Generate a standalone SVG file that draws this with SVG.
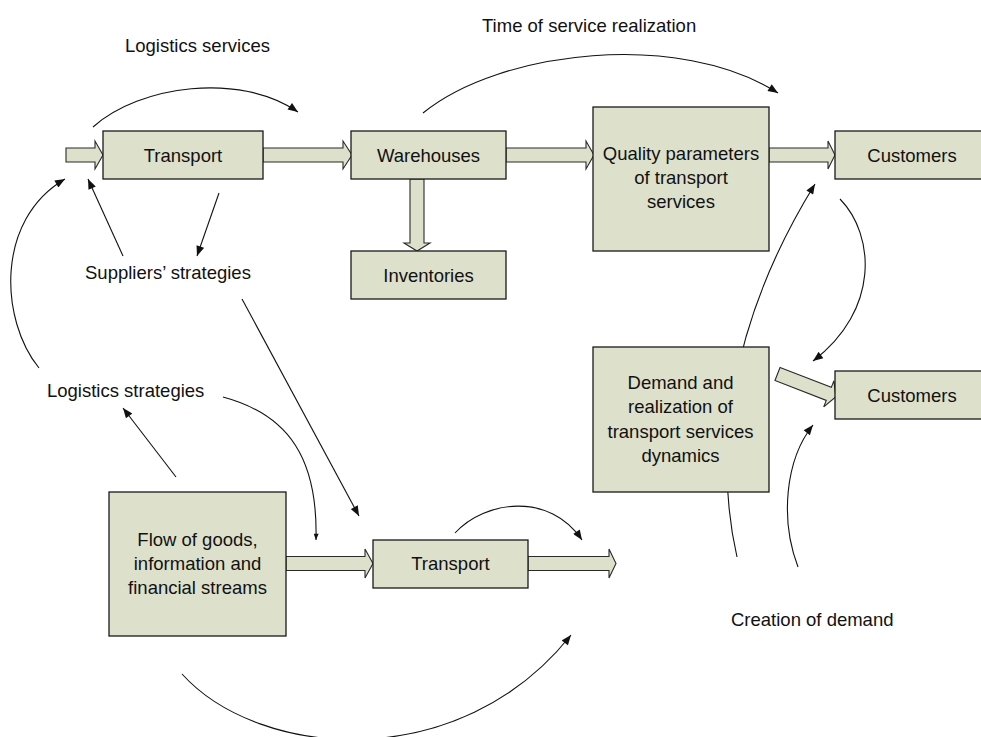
<svg xmlns="http://www.w3.org/2000/svg" width="981" height="737" viewBox="0 0 981 737">
  <style>
    .box { fill: #dde0cb; stroke: #1a1a1a; stroke-width: 1.3; }
    .flow { fill: #dde0cb; stroke: #2a2a2a; stroke-width: 1.1; }
    .link { fill: none; stroke: #111; stroke-width: 1.1; }
    .lbl { font-family: "Liberation Sans", Arial, sans-serif; font-size: 18.5px; fill: #111; }
    .mid { text-anchor: middle; }
  </style>
  <defs>
    <marker id="arrow" viewBox="0 0 10 8" refX="10" refY="4" markerWidth="11" markerHeight="8" markerUnits="userSpaceOnUse" orient="auto">
      <path d="M0,0 L10,4 L0,8 z" fill="#111"/>
    </marker>
    <marker id="arrowSmall" viewBox="0 0 10 8" refX="10" refY="4" markerWidth="7" markerHeight="5" markerUnits="userSpaceOnUse" orient="auto">
      <path d="M0,0 L10,4 L0,8 z" fill="#111"/>
    </marker>
  </defs>

  <!-- influence connectors (drawn first so boxes sit above them) -->
  <g id="connectors">
    <path class="link" d="M93,127 C140,85 240,72 298,112" marker-end="url(#arrow)"/>
    <path class="link" d="M423,113 C500,50 680,30 778,93" marker-end="url(#arrow)"/>
    <path class="link" d="M219,193 L197,256" marker-end="url(#arrow)"/>
    <path class="link" d="M123,256 L88,179" marker-end="url(#arrow)"/>
    <path class="link" d="M39,368 C0,320 -5,220 65,179" marker-end="url(#arrow)"/>
    <path class="link" d="M176,477 L123,408" marker-end="url(#arrow)"/>
    <path class="link" d="M223,397 C290,415 318,460 316,540" marker-end="url(#arrowSmall)"/>
    <path class="link" d="M242,299 L359,516" marker-end="url(#arrow)"/>
    <path class="link" d="M455,533 C485,500 550,492 582,540" marker-end="url(#arrow)"/>
    <path class="link" d="M182,674 C260,760 460,775 571,635" marker-end="url(#arrow)"/>
    <path class="link" d="M737,557 C715,460 725,330 815,184" marker-end="url(#arrow)"/>
    <path class="link" d="M840,199 C875,235 880,310 813,361" marker-end="url(#arrow)"/>
    <path class="link" d="M798,567 C780,520 785,460 813,425" marker-end="url(#arrow)"/>
  </g>

  <!-- block flow arrows -->
  <g id="flows">
    <polygon class="flow" points="66,148 95,148 95,141 103,155 95,169 95,162 66,162"/>
    <polygon class="flow" points="263,148 343,148 343,141 352,155 343,169 343,162 263,162"/>
    <polygon class="flow" points="506,148 586,148 586,141 594,155 586,169 586,162 506,162"/>
    <polygon class="flow" points="769,148 828,148 828,141 835,155 828,169 828,162 769,162"/>
    <polygon class="flow" points="410,179 410,243 404,243 417,251 430,243 424,243 424,179"/>
    <polygon class="flow" points="286,556.5 365,556.5 365,549 373,563.5 365,578 365,570.5 286,570.5"/>
    <polygon class="flow" points="528,556.5 609,556.5 609,549 616,563.5 609,578 609,570.5 528,570.5"/>
    <polygon class="flow" transform="translate(777.5,374) rotate(21.2)" points="0,-7 55,-7 55,-14 62.7,0 55,14 55,7 0,7"/>
  </g>

  <g id="transport-top">
    <rect class="box" x="103" y="131" width="160" height="48"/>
    <text class="lbl mid" x="183" y="161.5">Transport</text>
  </g>
  <g id="warehouses">
    <rect class="box" x="351" y="131" width="155" height="48"/>
    <text class="lbl mid" x="428.5" y="161.5">Warehouses</text>
  </g>
  <g id="inventories">
    <rect class="box" x="351" y="251" width="155" height="48"/>
    <text class="lbl mid" x="428.5" y="281.5">Inventories</text>
  </g>
  <g id="quality">
    <rect class="box" x="593" y="107" width="176" height="144"/>
    <text class="lbl mid" x="681" y="160">Quality parameters</text>
    <text class="lbl mid" x="681" y="184">of transport</text>
    <text class="lbl mid" x="681" y="208">services</text>
  </g>
  <g id="customers-top">
    <rect class="box" x="835" y="131" width="160" height="48"/>
    <text class="lbl mid" x="912" y="161.5">Customers</text>
  </g>
  <g id="demand">
    <rect class="box" x="593" y="347" width="176" height="145"/>
    <text class="lbl mid" x="680.5" y="388.5">Demand and</text>
    <text class="lbl mid" x="680.5" y="413">realization of</text>
    <text class="lbl mid" x="680.5" y="437.5">transport services</text>
    <text class="lbl mid" x="680.5" y="462">dynamics</text>
  </g>
  <g id="customers-mid">
    <rect class="box" x="835" y="371" width="160" height="48"/>
    <text class="lbl mid" x="912" y="401.5">Customers</text>
  </g>
  <g id="flow-of-goods">
    <rect class="box" x="109" y="492" width="177" height="144"/>
    <text class="lbl mid" x="197.5" y="546">Flow of goods,</text>
    <text class="lbl mid" x="197.5" y="570">information and</text>
    <text class="lbl mid" x="197.5" y="594">financial streams</text>
  </g>
  <g id="transport-bottom">
    <rect class="box" x="373" y="540" width="155" height="48"/>
    <text class="lbl mid" x="450.5" y="570">Transport</text>
  </g>

  <!-- free-standing labels -->
  <g id="labels">
    <text class="lbl" x="125" y="51.5">Logistics services</text>
    <text class="lbl" x="482" y="31.5">Time of service realization</text>
    <text class="lbl" x="85" y="278.5">Suppliers’ strategies</text>
    <text class="lbl" x="47" y="397">Logistics strategies</text>
    <text class="lbl" x="731" y="626">Creation of demand</text>
  </g>
</svg>
